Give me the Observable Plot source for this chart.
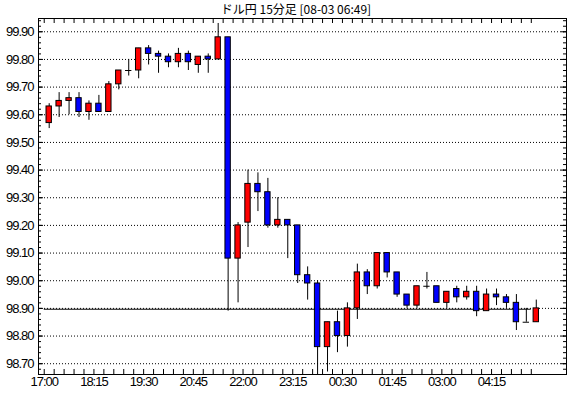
<!DOCTYPE html>
<html><head><meta charset="utf-8">
<script src="https://cdn.jsdelivr.net/npm/d3@7"></script>
<script src="https://cdn.jsdelivr.net/npm/@observablehq/plot@0.6"></script>
<style>
body{margin:0;background:#fff;overflow:hidden;}
#wrap{position:relative;width:570px;height:398px;}
#title{position:absolute;top:3px;left:100px;width:392px;text-align:center;font-family:"Noto Sans CJK JP",sans-serif;font-size:12px;line-height:12px;color:#000;}
#chart svg text{letter-spacing:-1px;}
</style>
</head><body>
<div id="wrap"><div id="chart"></div><div id="title">ドル円 15分足 [08-03 06:49]</div></div>
<script>
const title = "ドル円 15分足 [08-03 06:49]";
const tickLabels = ["17:00","18:15","19:30","20:45","22:00","23:15","00:30","01:45","03:00","04:15"];
const priceLabels = [98.70,98.80,98.90,99.00,99.10,99.20,99.30,99.40,99.50,99.60,99.70,99.80,99.90];
const refPrice = 98.897;
const opens  = [99.57,99.63,99.65,99.66,99.61,99.64,99.61,99.71,99.76,99.76,
                99.84,99.82,99.81,99.79,99.82,99.78,99.81,99.80,99.88,99.08,
                99.21,99.35,99.32,99.20,99.22,99.20,99.02,98.99,98.76,98.85,
                98.80,98.90,99.03,98.98,99.10,99.03,98.95,98.91,98.98,98.98,
                98.92,98.97,98.94,98.96,98.89,98.95,98.94,98.92,98.85,98.85];
const highs  = [99.64,99.68,99.68,99.68,99.65,99.67,99.72,99.76,99.80,99.84,
                99.85,99.83,99.82,99.84,99.83,99.81,99.82,99.93,99.88,99.21,
                99.40,99.39,99.37,99.30,99.22,99.20,99.05,99.00,98.85,98.89,
                98.92,99.06,99.04,99.10,99.10,99.03,98.95,98.98,99.03,98.98,
                98.96,98.98,98.98,98.98,98.97,98.97,98.95,98.95,98.90,98.93];
const lows   = [99.55,99.59,99.60,99.59,99.58,99.61,99.61,99.69,99.74,99.73,
                99.78,99.75,99.77,99.77,99.76,99.75,99.75,99.80,98.89,98.92,
                99.12,99.25,99.19,99.19,99.08,98.99,98.93,98.66,98.67,98.74,
                98.76,98.86,98.95,98.97,99.01,98.94,98.90,98.90,98.97,98.92,
                98.90,98.92,98.93,98.87,98.89,98.91,98.90,98.82,98.85,98.85];
const closes = [99.63,99.65,99.66,99.61,99.64,99.61,99.71,99.76,99.76,99.84,
                99.82,99.81,99.79,99.82,99.79,99.81,99.80,99.88,99.08,99.20,
                99.35,99.32,99.20,99.22,99.20,99.02,98.99,98.76,98.85,98.80,
                98.90,99.03,98.98,99.10,99.03,98.95,98.91,98.98,98.98,98.92,
                98.96,98.94,98.96,98.89,98.95,98.94,98.92,98.85,98.85,98.90];

const n = opens.length;
const data = opens.map((o, i) => ({i, open: o, close: closes[i], high: highs[i], low: lows[i]}));
const bodies = data.filter(d => d.open !== d.close);
const dojis = data.filter(d => d.open === d.close);
const slots = d3.range(n).map(i => i - 0.5);
const labelSlots = tickLabels.map((_, k) => k * 5 - 0.5);
const minorTicks = d3.range(98.68, 99.95, 0.02).map(v => +v.toFixed(2));

const W = 570, H = 398, mT = 18, mB = 24, mL = 38, mR = 4;
const fw = W - mL - mR, fh = H - mT - mB;

const chart = Plot.plot({
  width: W, height: H,
  marginTop: mT, marginBottom: mB, marginLeft: mL, marginRight: mR,
  style: {fontFamily: "'Liberation Sans', Arial, sans-serif", fontSize: "13px", background: "#fff", color: "#000"},
  x: {domain: [-1.076, 52.04], axis: null},
  y: {domain: [98.661, 99.948], axis: null},
  marks: [
    Plot.ruleY(priceLabels, {y: d => d, stroke: "black", strokeDasharray: "1,2"}),
    Plot.ruleY([refPrice], {y: d => d, x1: slots[0], x2: slots[n - 1], stroke: "black"}),
    Plot.ruleX(data, {x: "i", y1: "low", y2: "high", stroke: "black"}),
    Plot.rect(bodies, {x1: d => d.i - 0.27, x2: d => d.i + 0.27, y1: "open", y2: "close",
      fill: d => d.close > d.open ? "#ff0000" : "#0000ff", stroke: "black"}),
    Plot.ruleY(dojis, {y: "open", x1: d => d.i - 0.32, x2: d => d.i + 0.32, stroke: "black"}),
    Plot.frame({stroke: "black"}),
    Plot.ruleX(slots, {x: d => d, insetTop: fh - 5, stroke: "black"}),
    Plot.ruleX(slots, {x: d => d, insetBottom: fh - 5, stroke: "black"}),
    Plot.ruleY(minorTicks, {y: d => d, insetRight: fw - 3, stroke: "black"}),
    Plot.ruleY(priceLabels, {y: d => d, insetRight: fw - 5, stroke: "black"}),
    Plot.ruleY(minorTicks, {y: d => d, insetLeft: fw - 3, stroke: "black"}),
    Plot.ruleY(priceLabels, {y: d => d, insetLeft: fw - 5, stroke: "black"}),
    Plot.text(priceLabels, {y: d => d, frameAnchor: "left", dx: -5, textAnchor: "end",
      text: d => d.toFixed(2), fill: "black"}),
    Plot.text(labelSlots, {x: d => d, frameAnchor: "bottom", dy: 11,
      text: (d, k) => tickLabels[k], fill: "black"})
  ]
});
document.getElementById("chart").appendChild(chart);
</script>
</body></html>
